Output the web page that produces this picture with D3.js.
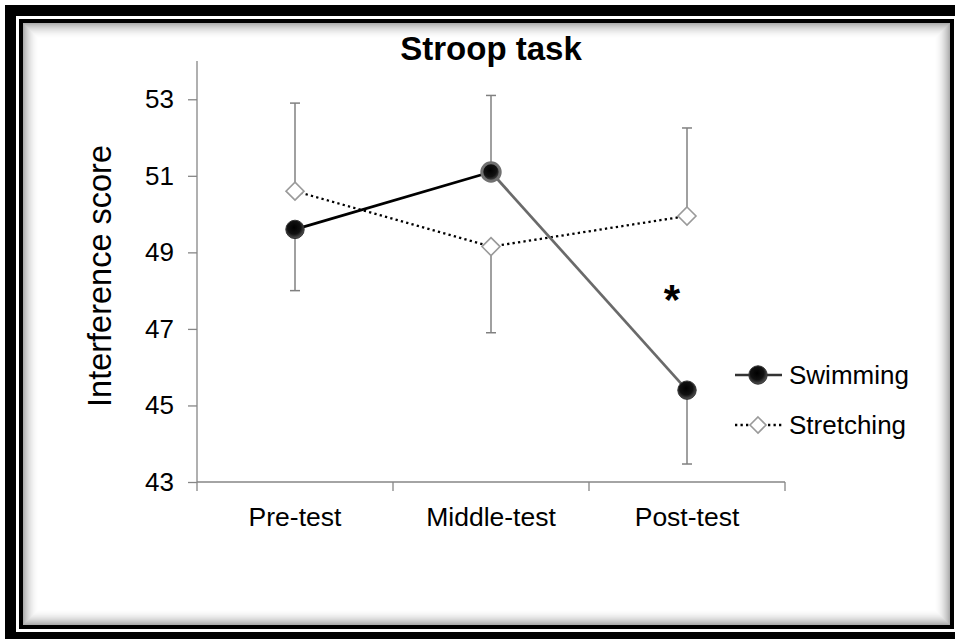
<!DOCTYPE html>
<html><head><meta charset="utf-8">
<script src="https://cdn.jsdelivr.net/npm/d3@7"></script>
<style>html,body{margin:0;padding:0;background:#fff;}svg{display:block;}</style>
</head><body>
<svg id="c" width="955" height="639"></svg>
<script>
const categories = ["Pre-test", "Middle-test", "Post-test"];
const swimming = [49.6, 51.1, 45.4];
const stretching = [50.6, 49.15, 49.95];
// signed one-sided error bars (positive = up, negative = down)
const swimmingErr = [-1.6, 2.0, -1.93];
const stretchingErr = [2.3, -2.25, 2.3];
const yTicks = [43, 45, 47, 49, 51, 53];
const seriesNames = ["Swimming", "Stretching"];

const svg = d3.select("#c");
const font = "Liberation Sans, Arial, sans-serif";

// ---- frame ----
svg.append("rect").attr("x",5).attr("y",5).attr("width",970).attr("height",650).attr("fill","#000");
svg.append("rect").attr("x",16).attr("y",16).attr("width",941).attr("height",616).attr("fill","#fff");
svg.append("rect").attr("x",19).attr("y",19).attr("width",935).attr("height",610).attr("fill","#000");
svg.append("rect").attr("x",23).attr("y",23).attr("width",927).attr("height",602).attr("fill","#fff");
for (let i = 0; i < 16; i++) {
  const a = 0.32 * Math.pow(1 - i/16, 2);
  svg.append("rect").attr("x",23+i+0.5).attr("y",23+i+0.5)
    .attr("width",927-2*i-1).attr("height",602-2*i-1)
    .attr("fill","none").attr("stroke","#000").attr("stroke-opacity",a).attr("stroke-width",1);
}

// ---- scales ----
const x = d3.scaleBand().domain(categories).range([197, 785]).padding(0);
const y = d3.scaleLinear().domain([43, 54]).range([482, 61]);
const cx = d => x(d) + x.bandwidth()/2;

// ---- axes ----
const axisColor = "#868686";
const yAxis = svg.append("g").attr("transform","translate(197,0)")
  .call(d3.axisLeft(y).tickValues(yTicks).tickSize(9).tickPadding(14).tickFormat(d3.format("d")));
yAxis.select(".domain").attr("d", `M0,${y(54)}V${y(43)}`);
yAxis.selectAll("line,path").attr("stroke", axisColor).attr("stroke-width",1.3);
yAxis.selectAll("text").attr("font-family",font).attr("font-size",26).attr("fill","#000");

const xAxisG = svg.append("g").attr("transform",`translate(0,${y(43)})`);
xAxisG.append("line").attr("x1",197).attr("x2",785).attr("stroke",axisColor).attr("stroke-width",1.3);
const bounds = categories.map(c => x(c)).concat([x(categories[categories.length-1]) + x.bandwidth()]);
xAxisG.selectAll(".bt").data(bounds).join("line")
  .attr("x1",d=>d).attr("x2",d=>d).attr("y1",0).attr("y2",9)
  .attr("stroke",axisColor).attr("stroke-width",1.3);
xAxisG.selectAll(".lbl").data(categories).join("text")
  .attr("x",d=>cx(d)).attr("y",44).attr("text-anchor","middle")
  .attr("font-family",font).attr("font-size",26.5).attr("fill","#000").text(d=>d);

// ---- title and axis title ----
svg.append("text").attr("x",491).attr("y",60).attr("text-anchor","middle")
  .attr("font-family",font).attr("font-weight","bold").attr("font-size",33).text("Stroop task");
svg.append("text").attr("transform","translate(111,276) rotate(-90)").attr("text-anchor","middle")
  .attr("font-family",font).attr("font-size",32.5).text("Interference score");

// ---- defs ----
const defs = svg.append("defs");
const rg = defs.append("radialGradient").attr("id","ball").attr("cx","45%").attr("cy","40%").attr("r","60%");
rg.append("stop").attr("offset","0%").attr("stop-color","#000");
rg.append("stop").attr("offset","60%").attr("stop-color","#111");
rg.append("stop").attr("offset","100%").attr("stop-color","#555");

// ---- error bars ----
function errBars(vals, errs) {
  const g = svg.append("g").attr("stroke","#808080").attr("stroke-width",1.5);
  categories.forEach((c,i) => {
    const y0 = y(vals[i]), y1 = y(vals[i] + errs[i]);
    g.append("line").attr("x1",cx(c)).attr("x2",cx(c)).attr("y1",y0).attr("y2",y1);
    g.append("line").attr("x1",cx(c)-5).attr("x2",cx(c)+5).attr("y1",y1).attr("y2",y1);
  });
}
errBars(swimming, swimmingErr);
errBars(stretching, stretchingErr);

// ---- stretching line ----
const line = d3.line().x((d,i)=>cx(categories[i])).y(d=>y(d));
svg.append("path").datum(stretching).attr("d",line).attr("fill","none")
  .attr("stroke","#000").attr("stroke-width",2.3).attr("stroke-dasharray","2.3,3.2");

// ---- swimming line segments ----
const segColors = ["#000", "#6a6a6a"];
for (let i = 0; i < swimming.length-1; i++) {
  svg.append("line").attr("x1",cx(categories[i])).attr("y1",y(swimming[i]))
    .attr("x2",cx(categories[i+1])).attr("y2",y(swimming[i+1]))
    .attr("stroke",segColors[i]).attr("stroke-width",2.7);
}

// ---- markers ----
function diamond(g, px, py, s) {
  g.append("path").attr("d",`M${px},${py-s}L${px+s},${py}L${px},${py+s}L${px-s},${py}Z`)
    .attr("fill","#fff").attr("stroke","#9a9a9a").attr("stroke-width",1.6);
}
function ball(g, px, py, ring) {
  g.append("circle").attr("cx",px).attr("cy",py).attr("r",9.2)
    .attr("fill","url(#ball)").attr("stroke",ring ? "#707070" : "#333").attr("stroke-width",ring?3:1);
}
const mg = svg.append("g");
stretching.forEach((v,i)=>diamond(mg, cx(categories[i]), y(v), 9));
swimming.forEach((v,i)=>ball(mg, cx(categories[i]), y(v), i===1));

// ---- significance marker ----
svg.append("text").attr("x",672).attr("y",314).attr("text-anchor","middle")
  .attr("font-family",font).attr("font-weight","bold").attr("font-size",42).text("*");

// ---- legend ----
const lg = svg.append("g");
const ly = [375, 425];
lg.append("line").attr("x1",735).attr("x2",782).attr("y1",ly[0]).attr("y2",ly[0]).attr("stroke","#333").attr("stroke-width",2.7);
ball(lg, 758, ly[0], false);
lg.append("line").attr("x1",735).attr("x2",782).attr("y1",ly[1]).attr("y2",ly[1])
  .attr("stroke","#000").attr("stroke-width",2.3).attr("stroke-dasharray","2.3,3.2");
diamond(lg, 758, ly[1], 8);
lg.selectAll(".lt").data(seriesNames).join("text")
  .attr("x",789).attr("y",(d,i)=>ly[i]+9).attr("font-family",font).attr("font-size",26).text(d=>d);
</script>
</body></html>
